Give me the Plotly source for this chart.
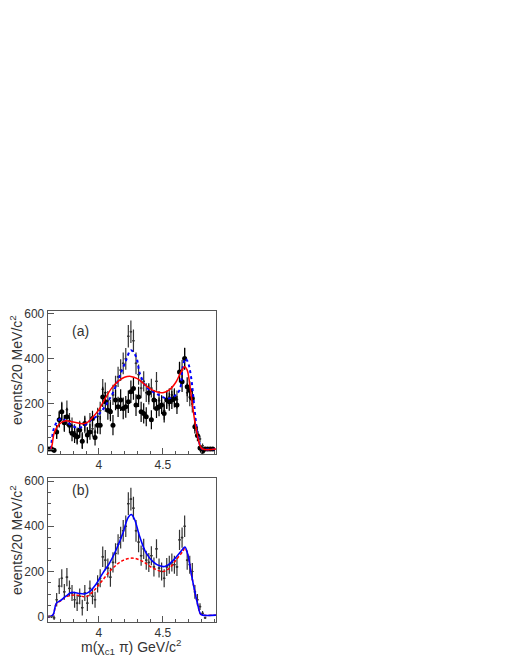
import plotly.graph_objects as go

# bin centres, 20 MeV bins
mass = [round(3.61 + 0.02 * i, 2) for i in range(65)]

# data with all events (crosses, drawn in both panels)
events_all = [0, 0, -5, 75, 135, 170, 110, 175, 125, 105, 75, 60, 90, 40, 105, 60,
              125, 90, 75, 145, 170, 265, 250, 215, 175, 240, 280, 320, 350, 380, 400,
              500, 520, 480, 380, 330, 270, 300, 250, 240, 270, 220, 300, 215, 200, 170,
              220, 230, 240, 230, 220, 340, 350, 400, 250, 230, 200, 110, 75, 45, 15,
              -5, None, None, None]

# second sample (black dots, panel a)
events_sel = [0, 0, -5, 76, 130, 165, 116, 143, 106, 70, 62, 55, 84, 35, 113, 62,
              76, 135, 51, 106, 106, 231, 210, 172, 165, 106, 217, 187, 217, 180, 187,
              210, 254, 268, 195, 231, 165, 158, 143, 250, 130, 217, 180, 187, 195, 158,
              217, 210, 217, 224, 195, 342, 298, 401, 276, 261, 224, 99, 60, 5, -10,
              0, 0, 0, 0]

errors = [5, 5, 10, 30, 35, 40, 35, 40, 35, 35, 35, 35, 35, 35, 35, 35, 35, 35, 35, 38,
          40, 45, 45, 42, 42, 45, 45, 45, 48, 48, 48, 50, 50, 50, 48, 45, 45, 45, 42, 42,
          42, 42, 42, 42, 40, 40, 40, 40, 40, 40, 40, 45, 45, 48, 42, 40, 38, 30, 25, 15,
          10, 5, 3, 3, 3]

# fit curves, panel (a)
fit_a_red_x = [3.625, 3.635, 3.65, 3.69, 3.74, 3.78, 3.82, 3.87, 3.91, 3.95, 4.00, 4.05,
               4.10, 4.15, 4.20, 4.25, 4.30, 4.35, 4.40, 4.45, 4.50, 4.55, 4.60, 4.64,
               4.67, 4.69, 4.71, 4.73, 4.75, 4.77, 4.79, 4.81, 4.915]
fit_a_red_y = [0, 20, 70, 110, 125, 122, 118, 112, 118, 140, 175, 225, 270, 300, 318,
               322, 312, 290, 268, 254, 250, 262, 295, 340, 365, 350, 285, 200, 120, 60,
               15, 0, 0]

fit_a_blue_x = [3.625, 3.65, 3.68, 3.71, 3.75, 3.80, 3.85, 3.89, 3.93, 3.97, 4.01, 4.06,
                4.11, 4.16, 4.21, 4.25, 4.29, 4.32, 4.37, 4.42, 4.47, 4.53, 4.58, 4.63,
                4.655, 4.675, 4.695, 4.72, 4.745, 4.77, 4.795, 4.81, 4.915]
fit_a_blue_y = [0, 95, 125, 135, 120, 100, 95, 105, 125, 140, 160, 200, 250, 320, 390,
                438, 410, 335, 276, 254, 239, 224, 231, 261, 364, 401, 386, 320, 190, 70,
                10, 0, 0]

# fit curves, panel (b)
fit_b_x = [3.60, 3.64, 3.667, 3.706, 3.745, 3.784, 3.836, 3.888, 3.927, 3.979, 4.031,
           4.083, 4.135, 4.188, 4.227, 4.253, 4.279, 4.318, 4.37, 4.422, 4.474, 4.513,
           4.552, 4.604, 4.651, 4.672, 4.695, 4.721, 4.747, 4.773, 4.794, 4.81, 4.915]
fit_b_y = [0, 7, 59, 74, 92, 107, 104, 101, 111, 145, 193, 237, 296, 370, 437, 452, 430,
           356, 281, 244, 225, 222, 234, 264, 296, 308, 274, 193, 118, 52, 12, 7, 7]

bkg_b_x = [3.60, 3.64, 3.667, 3.706, 3.745, 3.823, 3.901, 3.966, 4.031, 4.109, 4.188,
           4.266, 4.344, 4.422, 4.50, 4.552, 4.604, 4.656, 4.672, 4.695, 4.721, 4.747,
           4.773, 4.794, 4.81, 4.915]
bkg_b_y = [0, 7, 56, 72, 89, 96, 89, 118, 163, 215, 249, 259, 244, 215, 200, 215, 252,
           289, 304, 274, 193, 118, 52, 12, 7, 7]

W, H = 518, 670
FONT = "Liberation Sans"
OFF = 8  # the page puts the figure 8px in from the top-left corner


def px(x):
    return (x - OFF) / W


def py(y):
    return 1 - (y - OFF) / H


def crosses(xa, ya):
    return go.Scatter(
        x=mass, y=events_all, mode="markers", xaxis=xa, yaxis=ya,
        marker=dict(size=2, color="#333"),
        error_y=dict(type="data", array=errors, width=0, thickness=1.2, color="#333"),
        error_x=dict(type="constant", value=0.01, width=0, thickness=1.2, color="#333"),
        showlegend=False)


fig = go.Figure()

# panel (a)
fig.add_trace(crosses("x", "y"))
fig.add_trace(go.Scatter(
    x=mass, y=events_sel, mode="markers", xaxis="x", yaxis="y",
    marker=dict(size=5, color="black"),
    error_y=dict(type="data", array=errors, width=0, thickness=1.2, color="black"),
    error_x=dict(type="constant", value=0.01, width=0, thickness=1.2, color="black"),
    showlegend=False))
fig.add_trace(go.Scatter(x=fit_a_blue_x, y=fit_a_blue_y, mode="lines", xaxis="x", yaxis="y",
                         line=dict(color="#0000ff", width=2, dash="dot", shape="spline"),
                         showlegend=False))
fig.add_trace(go.Scatter(x=fit_a_red_x, y=fit_a_red_y, mode="lines", xaxis="x", yaxis="y",
                         line=dict(color="#ff0000", width=1.5, shape="spline"),
                         showlegend=False))

# panel (b)
fig.add_trace(crosses("x2", "y2"))
fig.add_trace(go.Scatter(x=bkg_b_x, y=bkg_b_y, mode="lines", xaxis="x2", yaxis="y2",
                         line=dict(color="#ff0000", width=1.5, dash="3px,2px", shape="spline"),
                         showlegend=False))
fig.add_trace(go.Scatter(x=fit_b_x, y=fit_b_y, mode="lines", xaxis="x2", yaxis="y2",
                         line=dict(color="#0000ff", width=1.6, shape="spline"),
                         showlegend=False))

xdom = [px(47.7), px(216)]
ydom_a = [py(454), py(311)]
ydom_b = [py(621.7), py(478.3)]

xax = dict(range=[3.6, 4.915], domain=xdom, showgrid=False, zeroline=False,
           automargin=False,
           showline=True, mirror=True, linecolor="#555", linewidth=1,
           ticks="inside", ticklen=6, tickcolor="#555", tickvals=[4, 4.5],
           ticktext=["4", "4.5"],
           minor=dict(dtick=0.1, tick0=3.6, ticks="inside", ticklen=3, tickcolor="#555"),
           tickfont=dict(family=FONT, size=12, color="#333"))
yax = dict(range=[-22, 612], showgrid=False, zeroline=False,
           automargin=False,
           showline=True, mirror=True, linecolor="#555", linewidth=1,
           ticks="inside", ticklen=6, tickcolor="#555", tickvals=[0, 200, 400, 600],
           minor=dict(dtick=50, tick0=0, ticks="inside", ticklen=3, tickcolor="#555"),
           tickfont=dict(family=FONT, size=12, color="#333"))

fig.update_layout(
    width=W, height=H, margin=dict(l=0, r=0, t=0, b=0),
    paper_bgcolor="white", plot_bgcolor="white",
    xaxis=dict(xax, anchor="y"),
    yaxis=dict(yax, domain=ydom_a, anchor="x"),
    xaxis2=dict(xax, anchor="y2"),
    yaxis2=dict(yax, domain=ydom_b, anchor="x2"),
)

ann_font = dict(family=FONT, size=14, color="#333")
fig.add_annotation(x=px(70), y=py(331), xref="paper", yref="paper", text="(a)",
                   showarrow=False, font=ann_font)
fig.add_annotation(x=px(70), y=py(500), xref="paper", yref="paper", text="(b)",
                   showarrow=False, font=ann_font)
fig.add_annotation(x=px(16), y=py(370), xref="paper", yref="paper",
                   text="events/20 MeV/c<sup>2</sup>", textangle=-90,
                   xanchor="center", yanchor="middle",
                   showarrow=False, font=ann_font)
fig.add_annotation(x=px(16), y=py(540), xref="paper", yref="paper",
                   text="events/20 MeV/c<sup>2</sup>", textangle=-90,
                   xanchor="center", yanchor="middle",
                   showarrow=False, font=ann_font)
fig.add_annotation(x=px(131), y=py(647), xref="paper", yref="paper",
                   text="m(χ<sub>c1</sub> π) GeV/c<sup>2</sup>",
                   xanchor="center", yanchor="middle",
                   showarrow=False, font=ann_font)

fig.write_html("out.html")
